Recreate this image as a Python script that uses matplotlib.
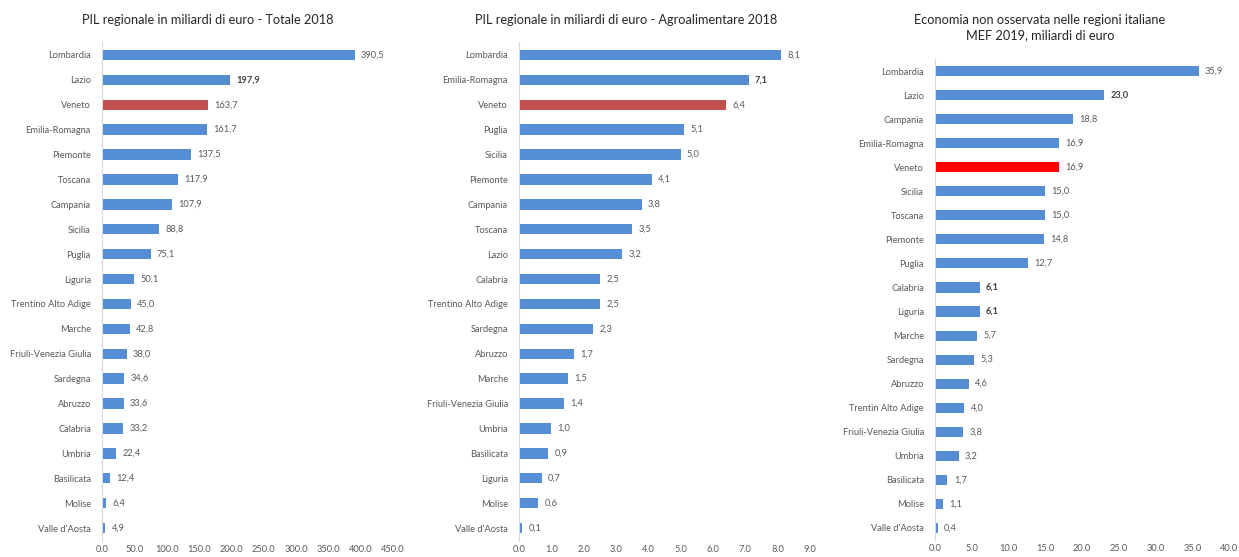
import matplotlib
matplotlib.use("Agg")
import matplotlib.pyplot as plt

plt.rcParams['font.family'] = ['Lato', 'DejaVu Sans']

# ---- data ----
regions_tot = ["Lombardia", "Lazio", "Veneto", "Emilia-Romagna", "Piemonte", "Toscana",
               "Campania", "Sicilia", "Puglia", "Liguria", "Trentino Alto Adige", "Marche",
               "Friuli-Venezia Giulia", "Sardegna", "Abruzzo", "Calabria", "Umbria",
               "Basilicata", "Molise", "Valle d'Aosta"]
values_tot = [390.5, 197.9, 163.7, 161.7, 137.5, 117.9, 107.9, 88.8, 75.1, 50.1, 45.0,
              42.8, 38.0, 34.6, 33.6, 33.2, 22.4, 12.4, 6.4, 4.9]
bold_tot = ["Lazio"]

regions_agro = ["Lombardia", "Emilia-Romagna", "Veneto", "Puglia", "Sicilia", "Piemonte",
                "Campania", "Toscana", "Lazio", "Calabria", "Trentino Alto Adige", "Sardegna",
                "Abruzzo", "Marche", "Friuli-Venezia Giulia", "Umbria", "Basilicata",
                "Liguria", "Molise", "Valle d'Aosta"]
values_agro = [8.1, 7.1, 6.4, 5.1, 5.0, 4.1, 3.8, 3.5, 3.2, 2.5, 2.5, 2.3, 1.7, 1.5, 1.4,
               1.0, 0.9, 0.7, 0.6, 0.1]
bold_agro = ["Emilia-Romagna"]

regions_nos = ["Lombardia", "Lazio", "Campania", "Emilia-Romagna", "Veneto", "Sicilia",
               "Toscana", "Piemonte", "Puglia", "Calabria", "Liguria", "Marche", "Sardegna",
               "Abruzzo", "Trentin Alto Adige", "Friuli-Venezia Giulia", "Umbria",
               "Basilicata", "Molise", "Valle d'Aosta"]
values_nos = [35.9, 23.0, 18.8, 16.9, 16.9, 15.0, 15.0, 14.8, 12.7, 6.1, 6.1, 5.7, 5.3,
              4.6, 4.0, 3.8, 3.2, 1.7, 1.1, 0.4]
bold_nos = ["Lazio", "Calabria", "Liguria"]

titles = ["PIL regionale in miliardi di euro - Totale 2018",
          "PIL regionale in miliardi di euro - Agroalimentare 2018",
          "Economia non osservata nelle regioni italiane\nMEF 2019, miliardi di euro"]
xticks_list = [[0, 50, 100, 150, 200, 250, 300, 350, 400, 450],
               [0, 1, 2, 3, 4, 5, 6, 7, 8, 9],
               [0, 5, 10, 15, 20, 25, 30, 35, 40]]

BLUE = "#558ED5"
RED1 = "#C0504D"
RED2 = "#FF0000"
TXT = "#595959"
FS = 6.7

fig = plt.figure(figsize=(12.39, 5.57), dpi=100)

axes_rects = [
    [102/1239, 1 - 540.5/557, 291/1239, (540.5 - 42.5)/557],
    [519/1239, 1 - 540.5/557, 291/1239, (540.5 - 42.5)/557],
    [935/1239, 1 - 540.0/557, 294/1239, (540.0 - 59.0)/557],
]

datasets = [(regions_tot, values_tot, bold_tot, RED1),
            (regions_agro, values_agro, bold_agro, RED1),
            (regions_nos, values_nos, bold_nos, RED2)]

for i, (rect, (regs, vals, bolds, red)) in enumerate(zip(axes_rects, datasets)):
    ax = fig.add_axes(rect)
    n = len(regs)
    ypos = list(range(n))
    colors = [red if r == "Veneto" else BLUE for r in regs]
    ax.barh(ypos, vals, height=0.42, color=colors)
    ax.set_ylim(n - 0.5, -0.5)
    xt = xticks_list[i]
    ax.set_xlim(0, xt[-1])
    ax.set_xticks(xt)
    ax.set_xticklabels([f"{v:.1f}" for v in xt], fontsize=FS, color=TXT)
    ax.set_yticks(ypos)
    ax.set_yticklabels(regs, fontsize=FS, color=TXT)
    ax.tick_params(axis='y', length=0, pad=8)
    ax.tick_params(axis='x', length=0, pad=3)
    for s in ["top", "right", "bottom"]:
        ax.spines[s].set_visible(False)
    ax.spines["left"].set_color("#D9D9D9")
    ax.spines["left"].set_linewidth(0.8)
    for y, v, r in zip(ypos, vals, regs):
        b = r in bolds
        ax.annotate(f"{v:.1f}".replace(".", ","), (v, y), xytext=(4.5, 0),
                    textcoords="offset points", va="center", ha="left",
                    fontsize=FS, color="#404040" if b else TXT,
                    fontweight="bold" if b else "normal")

TFS = 9.2
fig.text(208/1239, 1 - 20/557, titles[0], ha="center", va="center", fontsize=TFS, color="#262626")
fig.text(626/1239, 1 - 20/557, titles[1], ha="center", va="center", fontsize=TFS, color="#262626")
fig.text(1040/1239, 1 - 28/557, titles[2], ha="center", va="center", fontsize=TFS,
         color="#262626", linespacing=1.3)

fig.savefig("out.png", dpi=100)
